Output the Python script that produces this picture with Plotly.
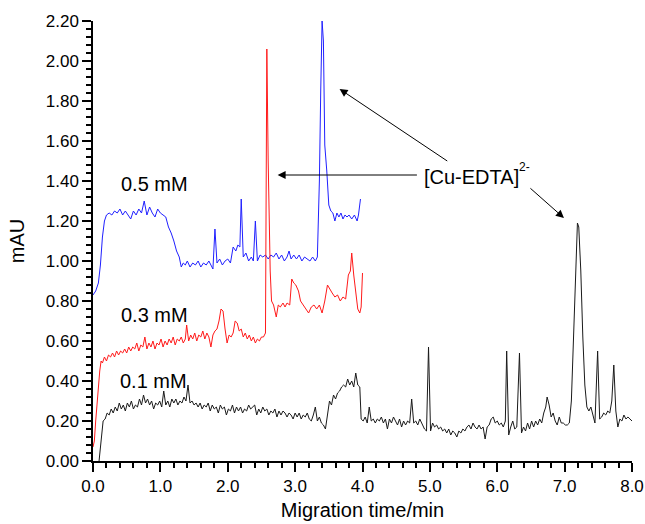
import plotly.graph_objects as go

# ---------------- data (migration time / min, absorbance / mAU) ----------------
blue_pts = [
    (0.00, 0.83), (0.04, 0.85), (0.08, 0.89), (0.11, 0.98), (0.14, 1.12), (0.17, 1.20),
    (0.20, 1.23), (0.24, 1.24), (0.28, 1.23), (0.32, 1.25), (0.36, 1.24), (0.40, 1.26),
    (0.44, 1.23), (0.48, 1.25), (0.52, 1.23), (0.56, 1.21), (0.60, 1.25), (0.64, 1.23),
    (0.68, 1.26), (0.72, 1.24), (0.76, 1.30), (0.80, 1.23), (0.84, 1.27), (0.88, 1.24),
    (0.92, 1.22), (0.96, 1.26), (1.00, 1.24), (1.04, 1.23), (1.08, 1.22), (1.12, 1.17),
    (1.16, 1.14), (1.20, 1.10), (1.24, 1.05), (1.28, 1.02), (1.31, 0.97), (1.34, 0.99),
    (1.37, 0.98), (1.40, 1.00), (1.44, 0.97), (1.48, 0.99), (1.52, 0.98), (1.56, 1.00),
    (1.60, 0.97), (1.64, 0.99), (1.68, 0.98), (1.72, 1.00), (1.76, 0.97), (1.78, 0.96),
    (1.81, 1.16), (1.84, 0.99), (1.88, 1.01), (1.92, 0.98), (1.96, 1.00), (2.00, 1.01),
    (2.04, 0.99), (2.08, 1.07), (2.12, 1.05), (2.15, 1.08), (2.18, 1.07), (2.20, 1.31),
    (2.23, 1.02), (2.27, 1.04), (2.31, 1.00), (2.35, 1.02), (2.38, 1.00), (2.41, 1.20),
    (2.44, 1.00), (2.48, 1.03), (2.52, 1.02), (2.56, 1.03), (2.60, 1.01), (2.64, 1.03),
    (2.68, 1.02), (2.72, 1.04), (2.76, 1.01), (2.80, 1.03), (2.84, 1.00), (2.88, 1.02),
    (2.91, 1.05), (2.94, 1.01), (2.98, 1.03), (3.02, 1.01), (3.06, 1.03), (3.10, 1.00),
    (3.14, 1.02), (3.18, 1.01), (3.22, 1.00), (3.26, 1.02), (3.30, 1.00), (3.33, 1.02),
    (3.36, 1.40), (3.38, 1.85), (3.40, 2.20), (3.42, 2.10), (3.44, 1.58), (3.47, 1.45),
    (3.50, 1.28), (3.53, 1.25), (3.56, 1.24), (3.59, 1.20), (3.62, 1.24), (3.65, 1.22),
    (3.68, 1.24), (3.71, 1.21), (3.74, 1.23), (3.77, 1.22), (3.80, 1.23), (3.84, 1.21),
    (3.88, 1.23), (3.92, 1.20), (3.94, 1.23), (3.97, 1.31),
]

red_pts = [
    (0.00, 0.07), (0.02, 0.10), (0.04, 0.20), (0.06, 0.30), (0.08, 0.38), (0.10, 0.45),
    (0.12, 0.50), (0.14, 0.49), (0.17, 0.52), (0.20, 0.50), (0.23, 0.53), (0.26, 0.52),
    (0.29, 0.54), (0.32, 0.52), (0.35, 0.55), (0.38, 0.53), (0.41, 0.55), (0.44, 0.54),
    (0.47, 0.56), (0.50, 0.54), (0.53, 0.57), (0.56, 0.55), (0.59, 0.57), (0.62, 0.56),
    (0.65, 0.59), (0.68, 0.55), (0.71, 0.58), (0.74, 0.57), (0.77, 0.62), (0.80, 0.56),
    (0.83, 0.59), (0.86, 0.57), (0.89, 0.60), (0.92, 0.56), (0.95, 0.59), (0.98, 0.58),
    (1.01, 0.61), (1.04, 0.57), (1.07, 0.60), (1.10, 0.58), (1.13, 0.61), (1.16, 0.59),
    (1.19, 0.62), (1.22, 0.58), (1.25, 0.61), (1.28, 0.60), (1.31, 0.62), (1.34, 0.59),
    (1.37, 0.61), (1.39, 0.68), (1.42, 0.60), (1.45, 0.63), (1.48, 0.61), (1.51, 0.64),
    (1.54, 0.60), (1.57, 0.63), (1.60, 0.62), (1.63, 0.65), (1.66, 0.61), (1.69, 0.64),
    (1.72, 0.62), (1.75, 0.57), (1.78, 0.63), (1.81, 0.65), (1.84, 0.66), (1.87, 0.70),
    (1.90, 0.76), (1.93, 0.75), (1.96, 0.66), (1.99, 0.59), (2.02, 0.63), (2.05, 0.62),
    (2.08, 0.64), (2.11, 0.70), (2.14, 0.69), (2.17, 0.65), (2.20, 0.66), (2.23, 0.62),
    (2.26, 0.64), (2.29, 0.61), (2.32, 0.63), (2.35, 0.60), (2.38, 0.62), (2.41, 0.59),
    (2.44, 0.61), (2.47, 0.60), (2.50, 0.62), (2.53, 0.62), (2.56, 0.64), (2.58, 2.06),
    (2.60, 1.50), (2.63, 0.95), (2.65, 0.80), (2.68, 0.78), (2.72, 0.72), (2.75, 0.78),
    (2.78, 0.77), (2.82, 0.79), (2.85, 0.77), (2.88, 0.79), (2.92, 0.78), (2.95, 0.91),
    (2.98, 0.89), (3.01, 0.88), (3.05, 0.85), (3.08, 0.80), (3.12, 0.78), (3.16, 0.76),
    (3.20, 0.74), (3.24, 0.77), (3.28, 0.78), (3.32, 0.76), (3.36, 0.78), (3.40, 0.74),
    (3.44, 0.80), (3.48, 0.88), (3.51, 0.86), (3.55, 0.84), (3.59, 0.82), (3.63, 0.83),
    (3.67, 0.80), (3.71, 0.82), (3.75, 0.81), (3.79, 0.93), (3.82, 0.95), (3.84, 1.04),
    (3.87, 0.93), (3.90, 0.84), (3.93, 0.76), (3.96, 0.74), (3.98, 0.77), (4.00, 0.94),
]

black_pts = [
    (0.09, 0.00), (0.12, 0.10), (0.15, 0.20), (0.18, 0.21), (0.21, 0.24), (0.24, 0.23),
    (0.27, 0.26), (0.30, 0.24), (0.33, 0.27), (0.36, 0.25), (0.39, 0.29), (0.42, 0.26),
    (0.45, 0.28), (0.48, 0.25), (0.51, 0.29), (0.54, 0.27), (0.57, 0.30), (0.60, 0.26),
    (0.63, 0.28), (0.66, 0.27), (0.69, 0.31), (0.72, 0.28), (0.75, 0.33), (0.78, 0.29),
    (0.81, 0.31), (0.84, 0.28), (0.87, 0.30), (0.90, 0.26), (0.93, 0.29), (0.96, 0.28),
    (0.99, 0.30), (1.02, 0.27), (1.05, 0.35), (1.08, 0.28), (1.11, 0.30), (1.14, 0.27),
    (1.17, 0.31), (1.20, 0.29), (1.23, 0.31), (1.26, 0.28), (1.29, 0.30), (1.32, 0.29),
    (1.35, 0.32), (1.38, 0.30), (1.41, 0.38), (1.44, 0.29), (1.47, 0.30), (1.50, 0.28),
    (1.53, 0.29), (1.56, 0.27), (1.59, 0.29), (1.62, 0.26), (1.65, 0.28), (1.68, 0.27),
    (1.71, 0.29), (1.74, 0.25), (1.77, 0.28), (1.80, 0.26), (1.83, 0.27), (1.86, 0.24),
    (1.89, 0.28), (1.92, 0.26), (1.95, 0.27), (1.98, 0.23), (2.01, 0.26), (2.04, 0.25),
    (2.07, 0.28), (2.10, 0.24), (2.13, 0.27), (2.16, 0.25), (2.19, 0.27), (2.22, 0.24),
    (2.25, 0.26), (2.28, 0.25), (2.31, 0.28), (2.34, 0.26), (2.37, 0.27), (2.40, 0.28),
    (2.43, 0.23), (2.46, 0.26), (2.49, 0.24), (2.52, 0.27), (2.55, 0.25), (2.58, 0.26),
    (2.61, 0.23), (2.64, 0.25), (2.67, 0.24), (2.70, 0.26), (2.73, 0.22), (2.76, 0.25),
    (2.79, 0.23), (2.82, 0.25), (2.85, 0.24), (2.88, 0.22), (2.91, 0.24), (2.94, 0.23),
    (2.97, 0.21), (3.00, 0.24), (3.03, 0.22), (3.06, 0.24), (3.09, 0.21), (3.12, 0.23),
    (3.15, 0.22), (3.18, 0.24), (3.21, 0.21), (3.24, 0.20), (3.27, 0.23), (3.30, 0.27),
    (3.33, 0.20), (3.36, 0.22), (3.39, 0.19), (3.42, 0.18), (3.45, 0.16), (3.48, 0.23),
    (3.51, 0.30), (3.54, 0.28), (3.57, 0.33), (3.60, 0.31), (3.63, 0.34), (3.66, 0.35),
    (3.69, 0.37), (3.72, 0.38), (3.75, 0.37), (3.78, 0.41), (3.81, 0.38), (3.84, 0.40),
    (3.87, 0.37), (3.90, 0.44), (3.93, 0.38), (3.96, 0.37), (3.98, 0.21), (4.01, 0.20),
    (4.04, 0.22), (4.07, 0.19), (4.10, 0.27), (4.13, 0.20), (4.16, 0.21), (4.19, 0.19),
    (4.22, 0.21), (4.25, 0.20), (4.28, 0.22), (4.31, 0.19), (4.34, 0.21), (4.37, 0.16),
    (4.40, 0.21), (4.43, 0.19), (4.46, 0.22), (4.49, 0.20), (4.52, 0.18), (4.55, 0.21),
    (4.58, 0.17), (4.61, 0.20), (4.64, 0.18), (4.67, 0.20), (4.70, 0.19), (4.73, 0.31),
    (4.76, 0.19), (4.79, 0.20), (4.82, 0.18), (4.85, 0.21), (4.88, 0.19), (4.92, 0.16),
    (4.95, 0.15), (4.98, 0.57), (5.01, 0.15), (5.04, 0.19), (5.07, 0.17), (5.10, 0.18),
    (5.13, 0.16), (5.16, 0.17), (5.19, 0.15), (5.22, 0.16), (5.25, 0.14), (5.28, 0.16),
    (5.31, 0.13), (5.34, 0.15), (5.37, 0.14), (5.40, 0.12), (5.43, 0.15), (5.46, 0.14),
    (5.49, 0.16), (5.52, 0.15), (5.55, 0.17), (5.58, 0.18), (5.61, 0.16), (5.64, 0.19),
    (5.67, 0.17), (5.70, 0.16), (5.73, 0.18), (5.76, 0.16), (5.79, 0.17), (5.82, 0.11),
    (5.85, 0.17), (5.88, 0.18), (5.91, 0.21), (5.94, 0.22), (5.97, 0.19), (6.00, 0.20),
    (6.03, 0.18), (6.06, 0.19), (6.09, 0.17), (6.12, 0.20), (6.14, 0.55), (6.17, 0.13),
    (6.20, 0.17), (6.23, 0.20), (6.26, 0.16), (6.29, 0.17), (6.33, 0.54), (6.36, 0.14),
    (6.39, 0.17), (6.42, 0.15), (6.45, 0.19), (6.48, 0.16), (6.51, 0.20), (6.54, 0.17),
    (6.57, 0.20), (6.60, 0.18), (6.63, 0.21), (6.66, 0.19), (6.69, 0.24), (6.72, 0.27),
    (6.74, 0.32), (6.77, 0.28), (6.80, 0.22), (6.83, 0.24), (6.86, 0.20), (6.89, 0.18),
    (6.92, 0.22), (6.95, 0.19), (6.98, 0.19), (7.01, 0.18), (7.04, 0.18), (7.07, 0.19),
    (7.10, 0.30), (7.13, 0.60), (7.16, 0.98), (7.19, 1.19), (7.21, 1.17), (7.24, 0.95),
    (7.27, 0.62), (7.30, 0.38), (7.33, 0.27), (7.36, 0.25), (7.39, 0.27), (7.42, 0.23),
    (7.45, 0.19), (7.49, 0.55), (7.52, 0.21), (7.55, 0.22), (7.58, 0.24), (7.61, 0.23),
    (7.64, 0.25), (7.67, 0.24), (7.70, 0.30), (7.73, 0.48), (7.76, 0.25), (7.79, 0.17),
    (7.82, 0.21), (7.85, 0.20), (7.88, 0.23), (7.91, 0.21), (7.94, 0.22), (7.97, 0.21),
    (8.00, 0.20),
]

series_names = ["0.5 mM", "0.3 mM", "0.1 mM"]
series_colors = ["#2020FF", "#FF1A1A", "#1A1A1A"]
# label positions (time, mAU)
label_x = [0.92, 0.91, 0.90]
label_y = [1.385, 0.73, 0.40]

peak_label = "[Cu-EDTA]"
# arrows: (tip time, tip mAU, tail time, tail mAU)
arrows = [
    (2.74, 1.43, 4.83, 1.43),
    (3.66, 1.86, 5.28, 1.495),
    (6.99, 1.215, 6.47, 1.37),
]

FONT = "Liberation Sans, Arial, sans-serif"

fig = go.Figure()
for pts, name, col in zip([blue_pts, red_pts, black_pts], series_names, series_colors):
    xs, ys = zip(*pts)
    fig.add_trace(go.Scatter(x=list(xs), y=list(ys), mode="lines", name=name,
                             line=dict(color=col, width=1), showlegend=False))

annotations = []
for name, lx, ly in zip(series_names, label_x, label_y):
    annotations.append(dict(x=lx, y=ly, xref="x", yref="y", text=name, showarrow=False,
                            font=dict(size=20, color="black", family=FONT),
                            xanchor="center", yanchor="middle"))
annotations.append(dict(x=4.88, y=1.42, xref="x", yref="y", text=peak_label, showarrow=False,
                        font=dict(size=20, color="black", family=FONT),
                        xanchor="left", yanchor="middle"))
annotations.append(dict(x=6.30, y=1.47, xref="x", yref="y", text="2-", showarrow=False,
                        font=dict(size=12, color="black", family=FONT),
                        xanchor="left", yanchor="middle"))
for tx, ty, sx, sy in arrows:
    annotations.append(dict(x=tx, y=ty, ax=sx, ay=sy, xref="x", yref="y", axref="x", ayref="y",
                            text="", showarrow=True, arrowhead=2, arrowsize=1.6,
                            arrowwidth=1, arrowcolor="black"))

axis_common = dict(showline=True, linecolor="black", linewidth=1.5, ticks="outside",
                   ticklen=9, tickwidth=1.5, tickcolor="black", showgrid=False,
                   zeroline=False, mirror=False, automargin=False,
                   tickfont=dict(size=17, color="black", family=FONT))

fig.update_layout(
    width=645, height=524,
    margin=dict(l=93, r=13, t=21, b=63),
    paper_bgcolor="white", plot_bgcolor="white",
    xaxis=dict(range=[0, 8], dtick=1, tick0=0, tickformat=".1f",
               minor=dict(dtick=0.2, ticks="outside", ticklen=5, tickwidth=1.5, tickcolor="black"),
               title=dict(text="Migration time/min", font=dict(size=20, color="black", family=FONT),
                          standoff=8),
               **axis_common),
    yaxis=dict(range=[0, 2.2], dtick=0.2, tick0=0, tickformat=".2f",
               minor=dict(dtick=0.04, ticks="outside", ticklen=5, tickwidth=1.5, tickcolor="black"),
               title=dict(text="mAU", font=dict(size=20, color="black", family=FONT), standoff=16),
               **axis_common),
    annotations=annotations,
)

fig.write_html("out.html", config={"displayModeBar": False},
               post_script="document.body.style.margin='0';document.body.style.overflow='hidden';")
